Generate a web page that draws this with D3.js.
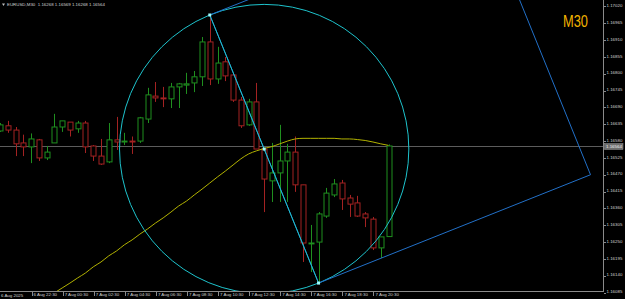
<!DOCTYPE html>
<html>
<head>
<meta charset="utf-8">
<script src="https://cdn.jsdelivr.net/npm/d3@7"></script>
<style>
  html, body { margin: 0; padding: 0; background: #000; overflow: hidden; }
  svg { display: block; }
  .axis path { display: none; }
  .axis line { stroke: #8a8a8a; shape-rendering: crispEdges; }
  .axis text { fill: #d2d2d2; font-family: "Liberation Sans", Arial, sans-serif; font-size: 4.4px; }
</style>
</head>
<body>
<svg id="chart"></svg>
<script>
// EURUSD M30 bars, 6 Aug 2025 20:30 .. 7 Aug 2025 21:30
const times = [
  '6 Aug 20:30', '6 Aug 21:00', '6 Aug 21:30', '6 Aug 22:00', '6 Aug 22:30', '6 Aug 23:00', '6 Aug 23:30',
  '7 Aug 00:00', '7 Aug 00:30', '7 Aug 01:00', '7 Aug 01:30', '7 Aug 02:00', '7 Aug 02:30', '7 Aug 03:00',
  '7 Aug 03:30', '7 Aug 04:00', '7 Aug 04:30', '7 Aug 05:00', '7 Aug 05:30', '7 Aug 06:00', '7 Aug 06:30',
  '7 Aug 07:00', '7 Aug 07:30', '7 Aug 08:00', '7 Aug 08:30', '7 Aug 09:00', '7 Aug 09:30', '7 Aug 10:00',
  '7 Aug 10:30', '7 Aug 11:00', '7 Aug 11:30', '7 Aug 12:00', '7 Aug 12:30', '7 Aug 13:00', '7 Aug 13:30',
  '7 Aug 14:00', '7 Aug 14:30', '7 Aug 15:00', '7 Aug 15:30', '7 Aug 16:00', '7 Aug 16:30', '7 Aug 17:00',
  '7 Aug 17:30', '7 Aug 18:00', '7 Aug 18:30', '7 Aug 19:00', '7 Aug 19:30', '7 Aug 20:00', '7 Aug 20:30',
  '7 Aug 21:00', '7 Aug 21:30'
];
const opens = [1.16613, 1.16630, 1.16616, 1.16574, 1.16561, 1.16584, 1.16525, 1.16574, 1.16626, 1.16642,
  1.16620, 1.16639, 1.16564, 1.16531, 1.16512, 1.16584, 1.16577, 1.16580, 1.16580, 1.16652,
  1.16727, 1.16721, 1.16718, 1.16757, 1.16763, 1.16770, 1.16790, 1.16904, 1.16783, 1.16839,
  1.16796, 1.16714, 1.16633, 1.16708, 1.16554, 1.16450, 1.16476, 1.16515, 1.16544, 1.16437,
  1.16244, 1.16250, 1.16335, 1.16404, 1.16443, 1.16394, 1.16378, 1.16342, 1.16325, 1.16231, 1.16268];
const highs = [1.16639, 1.16646, 1.16626, 1.16601, 1.16605, 1.16587, 1.16564, 1.16669, 1.16646, 1.16642,
  1.16646, 1.16646, 1.16567, 1.16587, 1.16639, 1.16659, 1.16607, 1.16595, 1.16659, 1.16754,
  1.16773, 1.16757, 1.16770, 1.16770, 1.16803, 1.16809, 1.16920, 1.16992, 1.16888, 1.16855,
  1.16803, 1.16724, 1.16718, 1.16770, 1.16557, 1.16574, 1.16633, 1.16571, 1.16595, 1.16437,
  1.16306, 1.16348, 1.16427, 1.16456, 1.16453, 1.16404, 1.16401, 1.16348, 1.16332, 1.16267, 1.16569];
const lows = [1.16610, 1.16607, 1.16531, 1.16531, 1.16508, 1.16515, 1.16518, 1.16574, 1.16610, 1.16595,
  1.16607, 1.16541, 1.16515, 1.16502, 1.16508, 1.16551, 1.16567, 1.16538, 1.16574, 1.16639,
  1.16708, 1.16691, 1.16688, 1.16688, 1.16734, 1.16740, 1.16760, 1.16763, 1.16767, 1.16776,
  1.16708, 1.16623, 1.16630, 1.16554, 1.16348, 1.16381, 1.16381, 1.16381, 1.16414, 1.16185,
  1.16152, 1.16116, 1.16329, 1.16397, 1.16355, 1.16332, 1.16332, 1.16299, 1.16224, 1.16198, 1.16268];
const closes = [1.16633, 1.16616, 1.16571, 1.16561, 1.16587, 1.16525, 1.16544, 1.16626, 1.16646, 1.16616,
  1.16639, 1.16561, 1.16531, 1.16505, 1.16584, 1.16577, 1.16580, 1.16577, 1.16656, 1.16731,
  1.16721, 1.16718, 1.16757, 1.16767, 1.16767, 1.16790, 1.16904, 1.16783, 1.16835, 1.16793,
  1.16714, 1.16630, 1.16708, 1.16554, 1.16456, 1.16476, 1.16515, 1.16544, 1.16437, 1.16247,
  1.16247, 1.16342, 1.16410, 1.16440, 1.16391, 1.16374, 1.16335, 1.16329, 1.16231, 1.16267, 1.16564];

// moving average, first value belongs to bar 7 (7 Aug 00:00)
const maStart = 7;
const maValues = [1.16084, 1.16100, 1.16116, 1.16133, 1.16149, 1.16169, 1.16185, 1.16205, 1.16221, 1.16241,
  1.16257, 1.16276, 1.16293, 1.16312, 1.16329, 1.16348, 1.16368, 1.16384, 1.16404, 1.16423,
  1.16443, 1.16463, 1.16482, 1.16502, 1.16522, 1.16538, 1.16548, 1.16556, 1.16562, 1.16571,
  1.16580, 1.16587, 1.16589, 1.16589, 1.16589, 1.16589, 1.16589, 1.16587, 1.16587, 1.16585,
  1.16582, 1.16577, 1.16571, 1.16566];

const timeTickBars = [4, 8, 12, 16, 20, 24, 28, 32, 36, 40, 44, 48];
const timeTickLabels = ['6 Aug 22:30', '7 Aug 00:30', '7 Aug 02:30', '7 Aug 04:30', '7 Aug 06:30', '7 Aug 08:30',
  '7 Aug 10:30', '7 Aug 12:30', '7 Aug 14:30', '7 Aug 16:30', '7 Aug 18:30', '7 Aug 20:30'];
const firstDateLabel = '6 Aug 2025';
const priceTicks = [1.17020, 1.16965, 1.16910, 1.16855, 1.16800, 1.16745, 1.16690, 1.16635, 1.16580,
  1.16525, 1.16470, 1.16415, 1.16360, 1.16305, 1.16250, 1.16195, 1.16140, 1.16085];

const bidPrice = 1.16564;
const headerText = 'EURUSD,M30  1.16268 1.16569 1.16268 1.16564';
const periodText = 'M30';

// drawing anchors (bar index, price)
const peakPoint = { bar: 27, price: 1.16992 };
const troughPoint = { bar: 41, price: 1.16116 };
const boxCorner = { bar: 76, price: 1.16470 };

const width = 625;
const height = 299;
const plotRight = 603;
const plotBottom = 291;

const svg = d3.select('#chart')
  .attr('width', width)
  .attr('height', height)
  .style('background', '#000');

svg.append('defs').append('clipPath')
  .attr('id', 'plot-clip')
  .append('rect')
  .attr('x', 0).attr('y', 0)
  .attr('width', plotRight).attr('height', plotBottom);

// scales
const x = d3.scaleLinear().domain([0, 50]).range([0, 388.5]);
const y = d3.scaleLinear().domain([1.16064, 1.17041]).range([height, 0]);
const px = i => Math.round(x(i)) + 0.5;

const plot = svg.append('g').attr('clip-path', 'url(#plot-clip)');

// bid line
plot.append('line')
  .attr('x1', 0).attr('x2', plotRight)
  .attr('y1', Math.round(y(bidPrice)) + 0.5).attr('y2', Math.round(y(bidPrice)) + 0.5)
  .attr('stroke', '#5c5c5c')
  .attr('stroke-width', 1);

// candles
const bars = d3.range(times.length).map(i => ({
  i, o: opens[i], h: highs[i], l: lows[i], c: closes[i]
}));
const upColor = '#1f8f1f';
const downColor = '#a42222';

const candle = plot.append('g').selectAll('g')
  .data(bars)
  .enter()
  .append('g');

candle.append('line')
  .attr('x1', d => px(d.i)).attr('x2', d => px(d.i))
  .attr('y1', d => y(d.h)).attr('y2', d => y(d.l))
  .attr('stroke', d => d.c >= d.o ? upColor : downColor)
  .attr('stroke-width', 1);

candle.append('rect')
  .attr('x', d => px(d.i) - 2.5)
  .attr('width', 5)
  .attr('y', d => y(Math.max(d.o, d.c)))
  .attr('height', d => Math.max(0.5, y(Math.min(d.o, d.c)) - y(Math.max(d.o, d.c))))
  .attr('fill', '#000')
  .attr('stroke', d => d.c >= d.o ? upColor : downColor)
  .attr('stroke-width', 1);

// moving average
const maLine = d3.line()
  .x((d, k) => x(maStart + k))
  .y(d => y(d))
  .curve(d3.curveMonotoneX);

plot.append('path')
  .datum(maValues)
  .attr('d', maLine)
  .attr('fill', 'none')
  .attr('stroke', '#b3b300')
  .attr('stroke-width', 1);

// circle on the peak-trough diameter
const p1 = [x(peakPoint.bar), y(peakPoint.price)];
const p2 = [x(troughPoint.bar), y(troughPoint.price)];
const p3 = [x(boxCorner.bar), y(boxCorner.price)];
const p4 = [p1[0] + p3[0] - p2[0], p1[1] + p3[1] - p2[1]];
const mid = [(p1[0] + p2[0]) / 2, (p1[1] + p2[1]) / 2];
const radius = Math.hypot(p2[0] - p1[0], p2[1] - p1[1]) / 2;

plot.append('circle')
  .attr('cx', mid[0]).attr('cy', mid[1])
  .attr('r', radius)
  .attr('fill', 'none')
  .attr('stroke', '#1ec3cc')
  .attr('stroke-width', 1);

// blue box
plot.append('path')
  .attr('d', d3.line()([p1, p2, p3, p4, p1]))
  .attr('fill', 'none')
  .attr('stroke', '#2270c8')
  .attr('stroke-width', 1);

// trend line peak -> trough
plot.append('line')
  .attr('x1', p1[0]).attr('y1', p1[1])
  .attr('x2', p2[0]).attr('y2', p2[1])
  .attr('stroke', '#1ec3cc')
  .attr('stroke-width', 1);

plot.selectAll('.anchor')
  .data([p1, mid, p2])
  .enter()
  .append('rect')
  .attr('class', 'anchor')
  .attr('x', d => d[0] - 1.5).attr('y', d => d[1] - 1.5)
  .attr('width', 3).attr('height', 3)
  .attr('fill', '#9ffcff');

// frame lines
svg.append('line')
  .attr('x1', plotRight + 0.5).attr('x2', plotRight + 0.5)
  .attr('y1', 0).attr('y2', plotBottom)
  .attr('stroke', '#8a8a8a');
svg.append('line')
  .attr('x1', 0).attr('x2', plotRight + 1)
  .attr('y1', plotBottom + 0.5).attr('y2', plotBottom + 0.5)
  .attr('stroke', '#8a8a8a');

// price axis
const yAxis = svg.append('g')
  .attr('class', 'axis')
  .attr('transform', `translate(${plotRight + 0.5},0)`)
  .call(d3.axisRight(y).tickValues(priceTicks).tickFormat(d3.format('.5f')).tickSize(2).tickPadding(1));
yAxis.selectAll('text').attr('dy', '0.05em');

// bid label
const bidY = Math.round(y(bidPrice)) + 0.5;
svg.append('rect')
  .attr('x', plotRight + 1.5).attr('y', bidY - 3)
  .attr('width', 18.5).attr('height', 6)
  .attr('fill', '#6e6e6e')
  .attr('stroke', '#9a9a9a')
  .attr('stroke-width', 0.5);
svg.append('text')
  .attr('x', plotRight + 3).attr('y', bidY + 1.6)
  .style('font-family', '"Liberation Sans", Arial, sans-serif')
  .style('font-size', '4.4px')
  .style('fill', '#f0f0f0')
  .text(d3.format('.5f')(bidPrice));

// time axis
const xAxis = svg.append('g')
  .attr('class', 'axis')
  .attr('transform', `translate(0,${plotBottom + 0.5})`)
  .call(d3.axisBottom(x).tickValues(timeTickBars)
    .tickFormat((d, k) => timeTickLabels[k]).tickSize(4).tickPadding(0));
xAxis.selectAll('.tick line').attr('transform', 'translate(0.5,0)');
xAxis.selectAll('text')
  .attr('text-anchor', 'start')
  .attr('x', 2)
  .attr('y', 1.5);

svg.append('text')
  .attr('x', 1).attr('y', 297)
  .style('font-family', '"Liberation Sans", Arial, sans-serif')
  .style('font-size', '4.4px')
  .style('fill', '#d2d2d2')
  .text(firstDateLabel);

// header
svg.append('path')
  .attr('d', 'M2,3.5 L5,3.5 L3.5,6 Z')
  .attr('fill', '#bdbdbd');
svg.append('text')
  .attr('x', 7).attr('y', 6.2)
  .style('font-family', '"Liberation Sans", Arial, sans-serif')
  .style('font-size', '4.4px')
  .style('fill', '#d2d2d2')
  .style('white-space', 'pre')
  .text(headerText);

// timeframe watermark
svg.append('text')
  .attr('x', 563).attr('y', 27)
  .attr('textLength', 25)
  .attr('lengthAdjust', 'spacingAndGlyphs')
  .style('font-family', '"Liberation Sans", Arial, sans-serif')
  .style('font-size', '16px')
  .style('fill', '#f2b300')
  .text(periodText);
</script>
</body>
</html>
